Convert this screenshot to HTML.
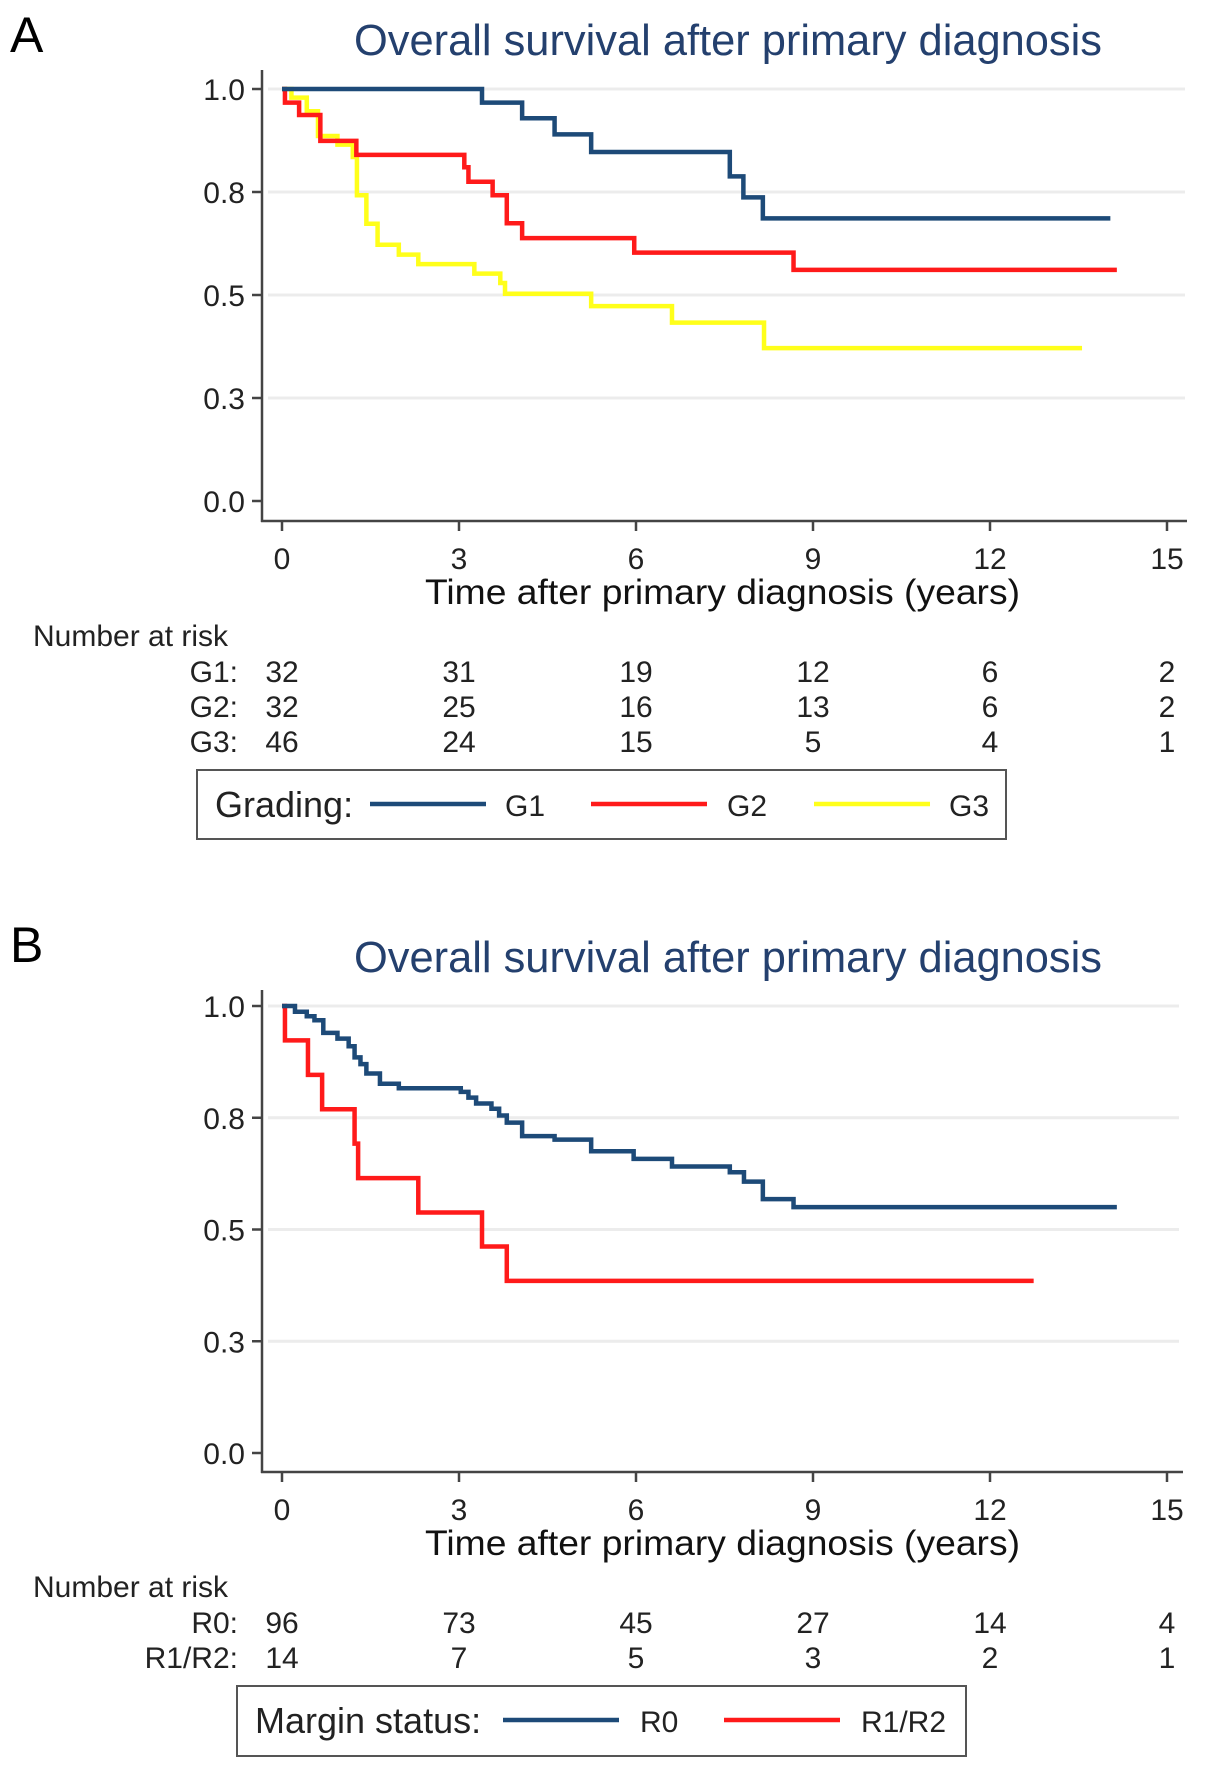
<!DOCTYPE html>
<html><head><meta charset="utf-8"><style>
html,body{margin:0;padding:0;background:#fff;}
svg{display:block;font-family:"Liberation Sans",sans-serif;}
</style></head><body>
<svg id="fig" width="1205" height="1774" viewBox="0 0 1205 1774" xmlns="http://www.w3.org/2000/svg">
<text x="10" y="52" font-size="50" fill="#000">A</text>
<text x="10" y="962" font-size="50" fill="#000">B</text>
<text x="354" y="55" font-size="44" fill="#24406e" textLength="748" lengthAdjust="spacingAndGlyphs">Overall survival after primary diagnosis</text>
<text x="354" y="972" font-size="44" fill="#24406e" textLength="748" lengthAdjust="spacingAndGlyphs">Overall survival after primary diagnosis</text>
<g id="panelA"></g>
<g id="panelB"></g>
</svg>
<script>
// ---- data ----
const xTicks = [0,3,6,9,12,15];
const yTickVals = [0,0.25,0.5,0.75,1];
const yTickLabels = ["0.0","0.3","0.5","0.8","1.0"];
const g1Times = [0,3.39,4.07,4.62,5.24,7.59,7.82,8.15];
const g1Surv  = [1,0.967,0.929,0.89,0.847,0.788,0.737,0.686];
const g1End = 14.04;
const g2Times = [0,0.05,0.29,0.65,1.26,3.09,3.16,3.57,3.81,4.07,5.97,8.67];
const g2Surv  = [1,0.967,0.937,0.874,0.84,0.81,0.775,0.742,0.674,0.638,0.603,0.561];
const g2End = 14.15;
const g3Times = [0,0.16,0.42,0.61,0.94,1.2,1.27,1.43,1.62,1.98,2.31,3.26,3.7,3.78,5.24,6.61,8.17];
const g3Surv  = [1,0.979,0.946,0.886,0.865,0.835,0.742,0.673,0.622,0.598,0.575,0.552,0.529,0.503,0.473,0.433,0.371];
const g3End = 13.56;
const r0Times = [0,0.22,0.42,0.55,0.70,0.94,1.13,1.23,1.33,1.43,1.66,1.98,3.03,3.16,3.29,3.55,3.68,3.81,4.07,4.62,5.24,5.96,6.61,7.59,7.83,8.15,8.67];
const r0Surv  = [1,0.987,0.977,0.968,0.94,0.927,0.91,0.885,0.87,0.849,0.826,0.816,0.808,0.795,0.782,0.77,0.755,0.739,0.709,0.701,0.675,0.658,0.641,0.628,0.607,0.568,0.55];
const r0End = 14.15;
const r1Times = [0,0.05,0.44,0.68,1.23,1.29,2.31,3.39,3.81];
const r1Surv  = [1,0.923,0.846,0.769,0.692,0.615,0.538,0.462,0.385];
const r1End = 12.74;
const riskG1 = [32,31,19,12,6,2];
const riskG2 = [32,25,16,13,6,2];
const riskG3 = [46,24,15,5,4,1];
const riskR0 = [96,73,45,27,14,4];
const riskR1 = [14,7,5,3,2,1];

const NS = "http://www.w3.org/2000/svg";
function mk(parent, tag, attrs, txt){
  const e = document.createElementNS(NS, tag);
  for (const k in attrs) e.setAttribute(k, attrs[k]);
  if (txt !== undefined) e.textContent = txt;
  parent.appendChild(e);
  return e;
}
const X0 = 282, PXY = 59;
function xs(t){ return X0 + t*PXY; }

function drawPanel(g, cfg){
  const ys = v => cfg.y0 - v*(cfg.y0 - cfg.y1);
  yTickVals.forEach((v,i)=>{
    if (v === 0) return;
    const l = mk(g,'line',{x1:268,x2:cfg.gridEnd,y1:ys(v),y2:ys(v),stroke:'#ececec','stroke-width':3});
    
    
  });
  const ya = mk(g,'line',{x1:262,x2:262,y1:cfg.axTop,y2:cfg.axY+1,stroke:'#444','stroke-width':2.5});
  
  
  const xa = mk(g,'line',{x1:261,x2:cfg.axRight,y1:cfg.axY,y2:cfg.axY,stroke:'#444','stroke-width':2.5});
  
  
  yTickVals.forEach((v,i)=>{
    mk(g,'line',{x1:252,x2:262,y1:ys(v),y2:ys(v),stroke:'#444','stroke-width':2.5});
    const t = mk(g,'text',{x:245,y:ys(v)+11,'font-size':30,'text-anchor':'end',fill:'#222'},yTickLabels[i]);
    
    
  });
  xTicks.forEach(v=>{
    mk(g,'line',{x1:xs(v),x2:xs(v),y1:cfg.axY,y2:cfg.axY+10,stroke:'#444','stroke-width':2.5});
    const t = mk(g,'text',{x:xs(v),y:cfg.axY+48,'font-size':30,'text-anchor':'middle',fill:'#222'},String(v));
    
    
  });
  const at = mk(g,'text',{x:425,y:cfg.axY+83,'font-size':35,fill:'#111',textLength:595,lengthAdjust:'spacingAndGlyphs'},'Time after primary diagnosis (years)');
  
  
  cfg.series.forEach(s=>{
    let d = 'M'+xs(s.t[0])+','+ys(s.s[0]);
    for (let i=1;i<s.t.length;i++){
      d += ' H'+xs(s.t[i])+' V'+ys(s.s[i]);
    }
    d += ' H'+xs(s.end);
    const p = mk(g,'path',{d:d,fill:'none',stroke:s.color,'stroke-width':4.5,'stroke-linejoin':'miter'});
    
    
  });
  const nr = mk(g,'text',{x:33,y:cfg.riskY,'font-size':30,fill:'#222'},'Number at risk');
  
  
  cfg.risk.forEach((r,ri)=>{
    const y = cfg.riskY + 36*(ri+1) - (ri>0?1*ri:0);
    const lb = mk(g,'text',{x:238,y:y,'font-size':30,'text-anchor':'end',fill:'#222'},r.label);
    
    
    r.vals.forEach((v,i)=>{
      const t = mk(g,'text',{x:xs(xTicks[i]),y:y,'font-size':30,'text-anchor':'middle',fill:'#222'},String(v));
      
      
    });
  });
  const L = cfg.legend;
  const box = mk(g,'rect',{x:L.x,y:L.y,width:L.w,height:L.h,fill:'#fff',stroke:'#555','stroke-width':2});
  
  
  const lt = mk(g,'text',{x:L.x+18,y:L.y+47,'font-size':36,fill:'#222'},L.title);
  
  
  L.items.forEach(it=>{
    const ln = mk(g,'line',{x1:it.x1,x2:it.x1+116,y1:L.y+34,y2:L.y+34,stroke:it.color,'stroke-width':4.5});
    
    
    const tx = mk(g,'text',{x:it.tx,y:L.y+46,'font-size':30,fill:'#222'},it.label);
    
    
  });
}

const BLUE='#1d4a78', RED='#ff1a1a', YEL='#ffff1a';
drawPanel(document.getElementById('panelA'),{
  y1:89, y0:501, axY:521, axTop:70, axRight:1187, gridEnd:1185,
  series:[
    {name:'g3',t:g3Times,s:g3Surv,end:g3End,color:YEL},
    {name:'g2',t:g2Times,s:g2Surv,end:g2End,color:RED},
    {name:'g1',t:g1Times,s:g1Surv,end:g1End,color:BLUE}
  ],
  riskY:646,
  risk:[{label:'G1:',vals:riskG1},{label:'G2:',vals:riskG2},{label:'G3:',vals:riskG3}],
  legend:{x:197,y:770,w:809,h:69,title:'Grading:',items:[
    {name:'g1',x1:370,tx:505,label:'G1',color:BLUE},
    {name:'g2',x1:591,tx:727,label:'G2',color:RED},
    {name:'g3',x1:814,tx:949,label:'G3',color:YEL}
  ]}
});
drawPanel(document.getElementById('panelB'),{
  y1:1006, y0:1453, axY:1472, axTop:990, axRight:1183, gridEnd:1179,
  series:[
    {name:'r1-r2',t:r1Times,s:r1Surv,end:r1End,color:RED},
    {name:'r0',t:r0Times,s:r0Surv,end:r0End,color:BLUE}
  ],
  riskY:1597,
  risk:[{label:'R0:',vals:riskR0},{label:'R1/R2:',vals:riskR1}],
  legend:{x:237,y:1686,w:729,h:70,title:'Margin status:',items:[
    {name:'r0',x1:503,tx:640,label:'R0',color:BLUE},
    {name:'r1-r2',x1:724,tx:861,label:'R1/R2',color:RED}
  ]}
});
</script>
</body></html>
